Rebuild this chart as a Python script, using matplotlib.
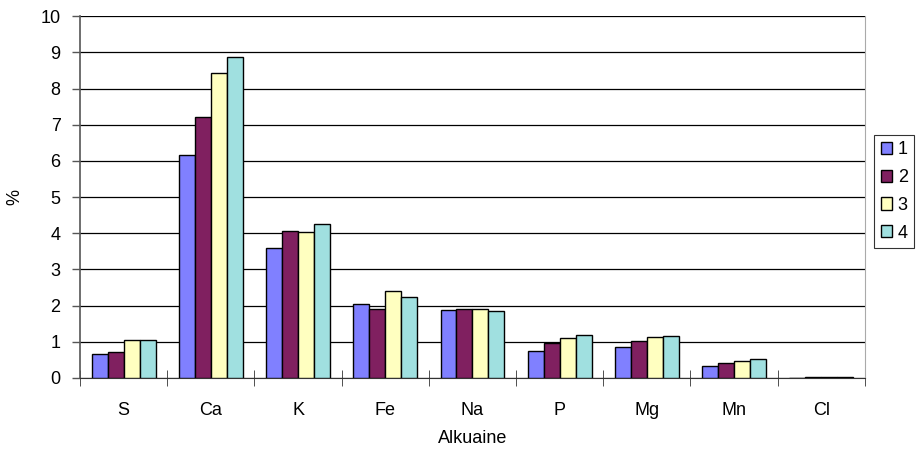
import numpy as np
import matplotlib
matplotlib.use("Agg")
import matplotlib.pyplot as plt

plt.rcParams['font.family'] = ['Liberation Sans', 'DejaVu Sans']

elements = ["S", "Ca", "K", "Fe", "Na", "P", "Mg", "Mn", "Cl"]
series_names = ["1", "2", "3", "4"]
s1 = [0.67, 6.17, 3.59, 2.04, 1.87, 0.76, 0.87, 0.32, 0.01]
s2 = [0.72, 7.22, 4.07, 1.90, 1.91, 0.97, 1.01, 0.42, 0.02]
s3 = [1.04, 8.42, 4.03, 2.41, 1.90, 1.11, 1.12, 0.46, 0.02]
s4 = [1.06, 8.86, 4.27, 2.23, 1.85, 1.19, 1.17, 0.52, 0.02]
colors = ["#8080FF", "#802060", "#FFFFC0", "#A0E0E0"]

fig = plt.figure(figsize=(9.2, 4.5), dpi=100)
ax = fig.add_axes([0.087, 0.16, 0.853, 0.804])

x = np.arange(len(elements))
w = 0.183
for i, vals in enumerate([s1, s2, s3, s4]):
    ax.bar(x + (i - 1.5) * w, vals, w, color=colors[i], edgecolor="black",
           linewidth=1.0, label=series_names[i], zorder=3)

fs = 13
ax.set_xlim(-0.5, len(elements) - 0.5)
ax.set_ylim(0, 10)
ax.set_yticks(range(0, 11))
ax.yaxis.grid(True, color="black", linewidth=0.9, zorder=0)
ax.set_xticks(x)
ax.set_xticklabels(elements, fontsize=fs)
ax.tick_params(axis="x", length=0, pad=17)
ax.set_xticks(np.arange(-0.5, len(elements), 1.0), minor=True)
ax.tick_params(axis="x", which="minor", length=12, direction="inout", color="#333333")
ax.tick_params(axis="y", labelsize=fs, length=6, color="#555555", width=1, pad=8)

ax.spines["top"].set_visible(False)
ax.spines["right"].set_color("#aaaaaa")
ax.spines["left"].set_color("#555555")
ax.spines["left"].set_linewidth(1.2)
ax.spines["bottom"].set_color("#333333")

ax.set_xlabel("Alkuaine", fontsize=fs, labelpad=8)
ax.set_ylabel("%", fontsize=fs)
ax.yaxis.set_label_coords(-0.072, 0.5)

leg = ax.legend(loc="upper left", bbox_to_anchor=(1.012, 0.672), fontsize=fs,
                frameon=True, fancybox=False, edgecolor="black",
                handlelength=0.65, handleheight=0.65, handletextpad=0.3,
                borderpad=0.35, labelspacing=0.6, borderaxespad=0)
leg.get_frame().set_linewidth(0.8)

fig.savefig("out.png", dpi=100)
